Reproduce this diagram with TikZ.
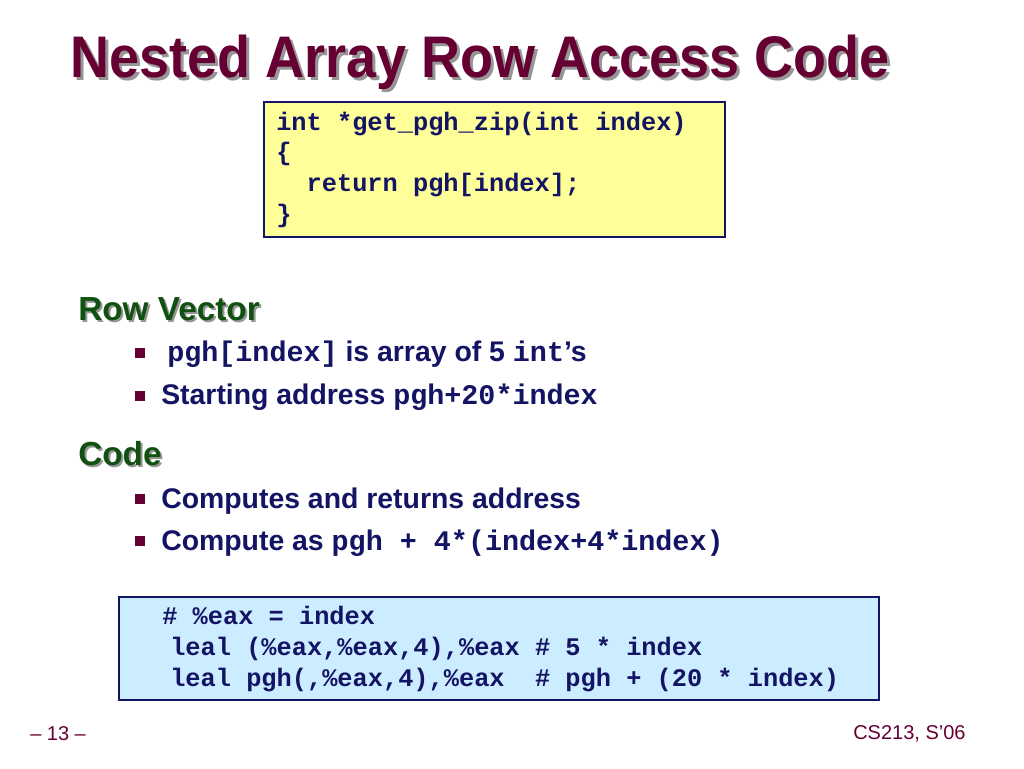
\documentclass[tikz,border=0pt]{standalone}
\usepackage{fontspec}
\usepackage{graphicx}
\setmainfont{Liberation Sans}
\setmonofont{Liberation Mono}
\definecolor{titlered}{RGB}{102,0,51}
\definecolor{headgreen}{RGB}{16,80,16}
\definecolor{textblue}{RGB}{20,20,100}
\definecolor{codeyellow}{RGB}{255,255,153}
\definecolor{codeblue}{RGB}{204,236,255}
\definecolor{shadowgrey}{RGB}{150,150,150}
\tikzset{
  titletext/.style={anchor=base west, inner sep=0pt, font=\fontsize{44}{50}\selectfont\bfseries},
  headtext/.style={anchor=base west, inner sep=0pt, font=\fontsize{25}{30}\selectfont\bfseries},
  itemtext/.style={anchor=base west, inner sep=0pt, text=textblue, font=\fontsize{21.3}{25}\selectfont\bfseries},
  codetext/.style={anchor=base west, inner sep=0pt, text=textblue, font=\fontsize{19}{23}\selectfont\ttfamily\bfseries},
  codebox/.style={draw=textblue, line width=1.2pt},
  bulletbox/.style={fill=titlered, minimum size=7.5pt, inner sep=0pt},
  foottext/.style={anchor=base west, inner sep=0pt, text=titlered, font=\fontsize{15}{18}\selectfont}
}
\begin{document}
\begin{tikzpicture}[x=0.75pt, y=-0.75pt]
  \useasboundingbox (0,0) rectangle (1024,768);
  % title with shadow
  \node [titletext, text=shadowgrey] (titleshadow) at (73,80) {\scalebox{0.92}[1]{Nested Array Row Access Code}};
  \node [titletext, text=titlered] (title) at (70,77) {\scalebox{0.92}[1]{Nested Array Row Access Code}};
  % C code
  \draw [codebox, fill=codeyellow] (264,102) rectangle (725,237);
  \node [codetext] (c1) at (276,130) {int *get\_pgh\_zip(int index)};
  \node [codetext] (c2) at (276,160) {\{};
  \node [codetext] (c3) at (276,191) {\ \ return pgh[index];};
  \node [codetext] (c4) at (276,222) {\}};
  % row vector
  \node [headtext, text=shadowgrey] (rowshadow) at (80,322) {Row Vector};
  \node [headtext, text=headgreen] (row) at (78,320) {Row Vector};
  \node [bulletbox] (b1) at (140,353) {};
  \node [itemtext] (i1) at (167,361) {\texttt{pgh[index]} is array of 5 \texttt{int}’s};
  \node [bulletbox] (b2) at (140,396) {};
  \node [itemtext] (i2) at (161,404) {Starting address \texttt{pgh+20*index}};
  % code
  \node [headtext, text=shadowgrey] (codeshadow) at (80,467) {Code};
  \node [headtext, text=headgreen] (code) at (78,465) {Code};
  \node [bulletbox] (b3) at (140,499) {};
  \node [itemtext] (i3) at (161,508) {Computes and returns address};
  \node [bulletbox] (b4) at (140,541) {};
  \node [itemtext] (i4) at (161,550) {Compute as \texttt{pgh + 4*(index+4*index)}};
  % assembly
  \draw [codebox, fill=codeblue] (119,597) rectangle (879,700);
  \node [codetext] (a1) at (162,624) {\# \%eax = index};
  \node [codetext] (a2) at (170,655) {leal (\%eax,\%eax,4),\%eax \# 5 * index};
  \node [codetext] (a3) at (170,686) {leal pgh(,\%eax,4),\%eax \ \# pgh + (20 * index)};
  % footer
  \node [foottext] (page) at (30,740) {– 13 –};
  \node [foottext] (course) at (853,739) {CS213, S’06};
\end{tikzpicture}
\end{document}
